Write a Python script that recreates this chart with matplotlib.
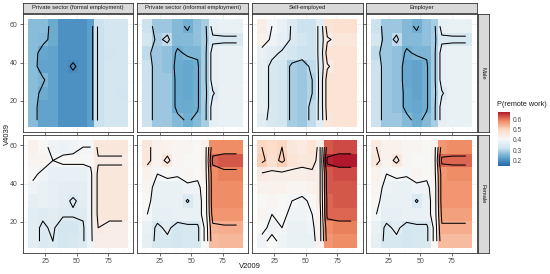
import numpy as np
import matplotlib
matplotlib.use("Agg")
import matplotlib.pyplot as plt
from matplotlib.colors import LinearSegmentedColormap, Normalize
from matplotlib.colorbar import ColorbarBase

plt.rcParams['font.family'] = ['Liberation Sans', 'DejaVu Sans']

# grid of the fitted surface: age (V2009) and weekly hours (V4039)
ages = [15, 23, 31, 39, 47, 55, 61, 67, 76, 86]
hours = [10, 17, 24, 31, 38, 45, 52, 59]
sectors = ["Private sector (formal employment)", "Private sector (informal employment)",
           "Self-employed", "Employer"]
sexes = ["Male", "Female"]
levels = [0.15, 0.20, 0.25, 0.30, 0.35, 0.40, 0.45, 0.50, 0.55, 0.60, 0.65]

# P(remote work); one row per hours value (bottom to top), one column per age
male_formal = [
    [.265, .23, .23, .205, .205, .205, .225, .32, .33, .33],
    [.265, .23, .23, .205, .205, .205, .225, .32, .33, .33],
    [.265, .24, .23, .205, .205, .205, .225, .32, .33, .325],
    [.265, .255, .23, .205, .205, .205, .225, .32, .33, .33],
    [.265, .23, .23, .205, .198, .205, .225, .32, .33, .33],
    [.265, .235, .23, .205, .205, .205, .225, .32, .325, .33],
    [.265, .26, .24, .205, .205, .205, .225, .32, .33, .33],
    [.265, .265, .24, .205, .205, .205, .225, .32, .33, .33],
]
male_informal = [
    [.32, .28, .28, .26, .245, .26, .29, .37, .38, .38],
    [.32, .28, .28, .24, .24, .245, .29, .37, .38, .38],
    [.32, .28, .28, .24, .235, .245, .29, .345, .38, .38],
    [.32, .28, .28, .24, .235, .245, .29, .37, .38, .38],
    [.32, .28, .27, .24, .235, .245, .29, .37, .38, .38],
    [.31, .28, .27, .245, .255, .255, .29, .37, .38, .38],
    [.33, .29, .31, .26, .26, .27, .29, .34, .34, .34],
    [.32, .28, .28, .26, .245, .27, .29, .37, .38, .38],
]
male_self = [
    [.36, .34, .33, .29, .28, .31, .36, .46, .47, .47],
    [.37, .34, .33, .29, .28, .31, .36, .47, .47, .47],
    [.37, .34, .33, .29, .28, .30, .36, .47, .47, .47],
    [.37, .34, .33, .29, .28, .30, .36, .47, .47, .47],
    [.37, .34, .33, .29, .28, .31, .36, .445, .47, .47],
    [.38, .36, .345, .33, .32, .32, .36, .47, .47, .47],
    [.43, .39, .37, .345, .33, .32, .36, .445, .46, .46],
    [.44, .40, .38, .345, .32, .32, .36, .47, .48, .48],
]
male_employer = [
    [.32, .28, .28, .26, .24, .26, .29, .37, .38, .38],
    [.32, .28, .27, .24, .235, .245, .29, .37, .38, .38],
    [.32, .28, .27, .24, .23, .245, .29, .345, .38, .38],
    [.32, .28, .27, .235, .23, .245, .29, .37, .38, .38],
    [.32, .28, .27, .235, .23, .245, .29, .37, .38, .38],
    [.31, .28, .27, .245, .255, .255, .29, .37, .38, .38],
    [.33, .28, .31, .26, .26, .27, .29, .34, .34, .34],
    [.32, .28, .28, .26, .245, .27, .29, .37, .38, .38],
]
female_formal = [
    [.36, .345, .35, .33, .34, .345, .39, .44, .44, .44],
    [.36, .345, .355, .33, .33, .345, .39, .45, .44, .44],
    [.36, .355, .36, .355, .355, .355, .39, .46, .46, .46],
    [.37, .38, .37, .36, .345, .36, .39, .46, .46, .46],
    [.39, .38, .37, .365, .365, .365, .39, .46, .46, .46],
    [.41, .39, .375, .375, .375, .375, .39, .46, .46, .46],
    [.42, .42, .40, .41, .41, .41, .41, .445, .445, .445],
    [.43, .41, .39, .385, .39, .40, .40, .46, .46, .46],
]
female_informal = [
    [.37, .34, .34, .33, .34, .34, .41, .53, .535, .535],
    [.38, .34, .36, .33, .34, .34, .41, .54, .545, .545],
    [.40, .37, .37, .38, .38, .38, .42, .57, .57, .57],
    [.41, .38, .38, .38, .345, .38, .42, .58, .58, .58],
    [.42, .38, .38, .38, .39, .39, .42, .58, .58, .58],
    [.43, .40, .41, .405, .42, .41, .43, .58, .59, .59],
    [.46, .43, .46, .42, .41, .41, .43, .61, .62, .62],
    [.46, .43, .43, .42, .42, .41, .43, .58, .58, .58],
]
female_self = [
    [.39, .41, .39, .38, .38, .38, .43, .57, .58, .58],
    [.41, .39, .40, .38, .38, .39, .43, .58, .59, .59],
    [.42, .40, .41, .39, .39, .40, .43, .61, .61, .61],
    [.41, .42, .41, .40, .39, .41, .44, .61, .62, .62],
    [.43, .43, .43, .42, .42, .43, .44, .62, .62, .62],
    [.445, .44, .44, .44, .44, .445, .44, .62, .63, .63],
    [.51, .48, .51, .47, .46, .46, .44, .66, .67, .67],
    [.50, .49, .50, .46, .45, .47, .44, .62, .63, .63],
]
female_employer = [
    [.37, .34, .34, .33, .34, .34, .41, .53, .53, .53],
    [.38, .34, .36, .33, .34, .34, .41, .545, .545, .545],
    [.40, .37, .37, .38, .38, .38, .42, .56, .56, .56],
    [.41, .38, .38, .38, .345, .38, .42, .57, .57, .57],
    [.42, .385, .38, .38, .39, .39, .42, .57, .57, .57],
    [.43, .40, .41, .405, .42, .41, .43, .57, .58, .58],
    [.46, .43, .46, .42, .41, .41, .43, .61, .61, .61],
    [.45, .43, .43, .42, .42, .41, .43, .57, .58, .58],
]

grids = {
    "Male": [male_formal, male_informal, male_self, male_employer],
    "Female": [female_formal, female_informal, female_self, female_employer],
}

palette = ["#2166AC", "#67A9CF", "#D1E5F0", "#F7F7F7", "#FDDBC7", "#EF8A62", "#B2182B"]
cmap = LinearSegmentedColormap.from_list("rdbu", palette)
norm = Normalize(vmin=0.15, vmax=0.67)


def edges(c):
    c = np.asarray(c, float)
    mid = (c[:-1] + c[1:]) / 2
    return np.concatenate([[c[0] - (c[1] - c[0]) / 2], mid, [c[-1] + (c[-1] - c[-2]) / 2]])


age_edges = edges(ages)
hour_edges = edges(hours)
xpad = (age_edges[-1] - age_edges[0]) * 0.05
ypad = (hour_edges[-1] - hour_edges[0]) * 0.05

W, H = 550, 274
fig = plt.figure(figsize=(W / 100, H / 100), dpi=100)


def px_axes(x0, y0, x1, y1):
    return fig.add_axes([x0 / W, 1 - y1 / H, (x1 - x0) / W, (y1 - y0) / H])


border = "#333333"
pw, ph = 110.7, 118.3
lefts = [22.7 + 114.55 * i for i in range(4)]
tops = [14.0, 135.0]

for r, sex in enumerate(sexes):
    for c, sector in enumerate(sectors):
        z = np.array(grids[sex][c])
        ax = px_axes(lefts[c], tops[r], lefts[c] + pw, tops[r] + ph)
        ax.set_axisbelow(True)
        ax.set_xticks([25, 50, 75])
        ax.set_yticks([20, 40, 60])
        ax.set_xticks([12.5, 37.5, 62.5, 87.5], minor=True)
        ax.set_yticks([10, 30, 50], minor=True)
        ax.grid(which="major", color="#EBEBEB", lw=0.5)
        ax.grid(which="minor", color="#F3F3F3", lw=0.3)
        ax.pcolormesh(age_edges, hour_edges, z, cmap=cmap, norm=norm,
                      shading="flat", antialiased=False, zorder=1)
        ax.contour(ages, hours, z, levels=levels, colors="black",
                   linewidths=0.75, zorder=2)
        ax.set_xlim(age_edges[0] - xpad, age_edges[-1] + xpad)
        ax.set_ylim(hour_edges[0] - ypad, hour_edges[-1] + ypad)
        ax.tick_params(which="major", length=2, width=0.5, color=border,
                       labelsize=5, labelcolor="#4D4D4D", pad=1.5)
        ax.tick_params(which="minor", length=0)
        if r == 0:
            ax.set_xticklabels([])
        if c > 0:
            ax.set_yticklabels([])
        for s in ax.spines.values():
            s.set_color(border)
            s.set_linewidth(0.6)

        if r == 0:
            st = px_axes(lefts[c], 2.7, lefts[c] + pw, 13.3)
            st.set_facecolor("#D9D9D9")
            st.set_xticks([])
            st.set_yticks([])
            for s in st.spines.values():
                s.set_color(border)
                s.set_linewidth(0.6)
            st.text(0.5, 0.5, sector, ha="center", va="center", fontsize=4.2,
                    color="#1A1A1A", transform=st.transAxes)

    sr = px_axes(477.8, tops[r], 489.2, tops[r] + ph)
    sr.set_facecolor("#D9D9D9")
    sr.set_xticks([])
    sr.set_yticks([])
    for s in sr.spines.values():
        s.set_color(border)
        s.set_linewidth(0.6)
    sr.text(0.5, 0.5, sex, ha="center", va="center", rotation=-90, fontsize=4.2,
            color="#1A1A1A", transform=sr.transAxes)

fig.text((lefts[0] + lefts[3] + pw) / 2 / W, 1 - 267 / H, "V2009",
         ha="center", va="center", fontsize=5.5, color="#1A1A1A")
fig.text(7.5 / W, 1 - 134 / H, "V4039", ha="center", va="center",
         rotation=90, fontsize=5.5, color="#1A1A1A")

cax = px_axes(497.5, 111.7, 509.5, 166)
cb = ColorbarBase(cax, cmap=cmap, norm=norm, orientation="vertical")
cb.outline.set_visible(False)
cb.set_ticks([0.2, 0.3, 0.4, 0.5, 0.6])
cb.ax.tick_params(length=0, labelsize=4.8, labelcolor="#4D4D4D", pad=2.5)
fig.text(497 / W, 1 - 104 / H, "P(remote work)", ha="left", va="center",
         fontsize=5.2, color="#1A1A1A")

fig.savefig("out.png", dpi=100)
